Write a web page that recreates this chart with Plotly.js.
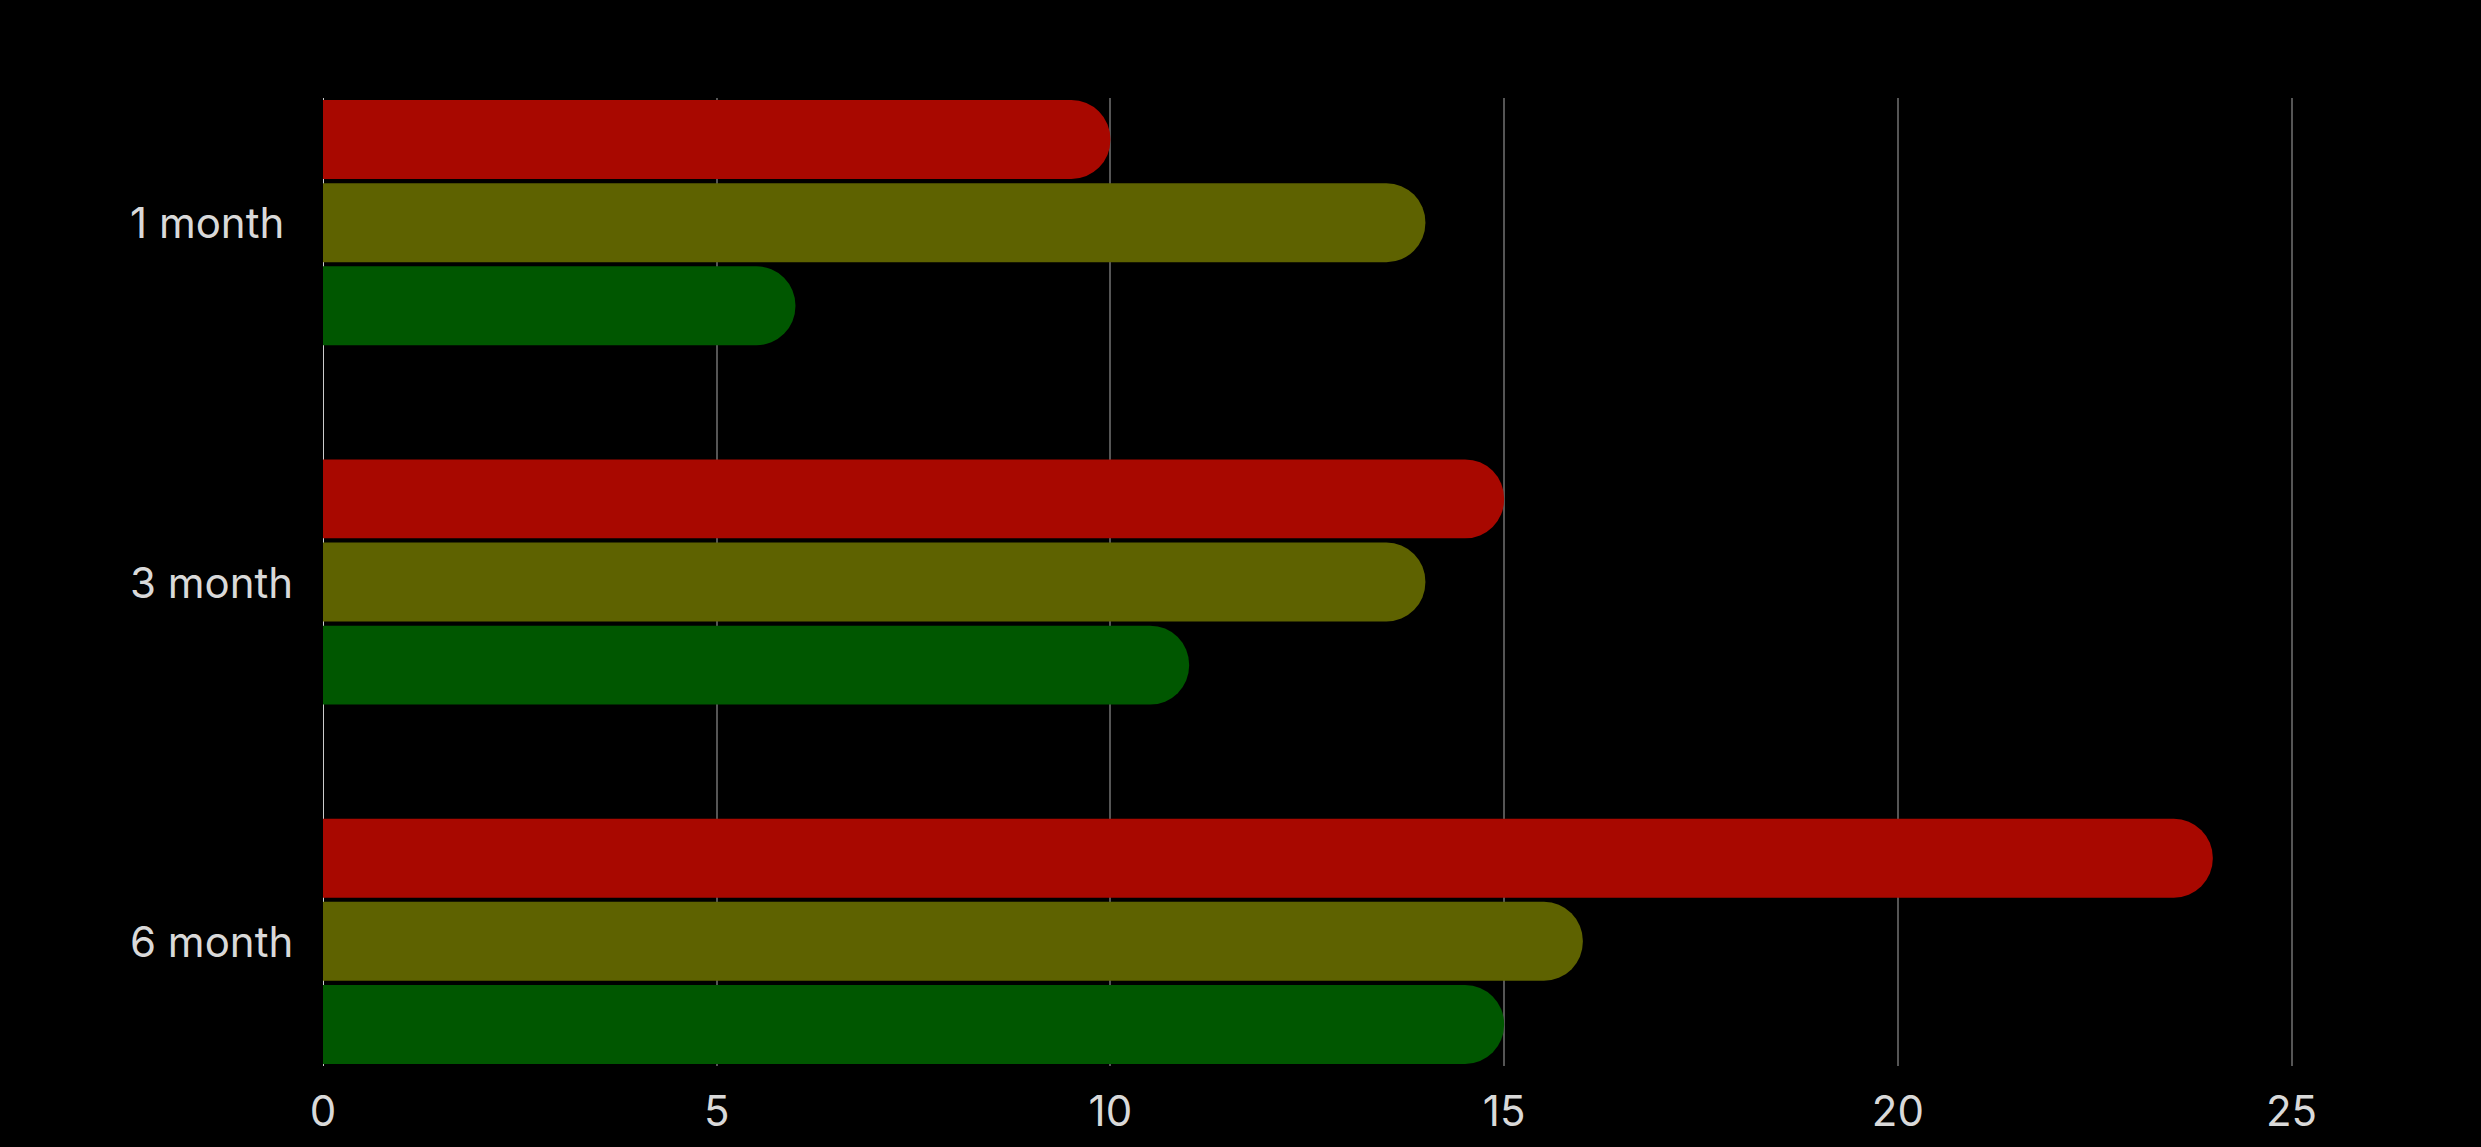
<!DOCTYPE html>
<html>
<head>
<meta charset="utf-8">
<script src="https://cdn.plot.ly/plotly-3.0.1.min.js"></script>
<style>
  html, body { margin: 0; padding: 0; background: #000; }
  #chart { width: 2481px; height: 1147px; }
</style>
</head>
<body>
<div id="chart"></div>
<script>
const categories = ["1 month", "3 month", "6 month"];
const seriesNames = ["Red", "Olive", "Green"];
const redValues = [10, 15, 24];
const oliveValues = [14, 14, 16];
const greenValues = [6, 11, 15];
const xTickValues = [0, 5, 10, 15, 20, 25];

const colors = ["#a80800", "#5e6200", "#005700"];
const allValues = [redValues, oliveValues, greenValues];

const traces = allValues.map((vals, i) => ({
  type: "bar",
  orientation: "h",
  name: seriesNames[i],
  y: categories,
  x: vals,
  marker: { color: colors[i], cornerradius: "50%", line: { width: 0 } },
  hoverinfo: "x+y"
}));

const marginL = 323, marginR = 80;
const plotW = 2481 - marginL - marginR;

// left-aligned category labels
const labelAnnotations = categories.map(c => ({
  text: c,
  xref: "paper",
  yref: "y",
  x: (128 - marginL) / plotW,
  y: c,
  xanchor: "left",
  yanchor: "middle",
  showarrow: false,
  font: { size: 42, color: "#d9d9d9" }
}));

const layout = {
  width: 2481,
  height: 1147,
  paper_bgcolor: "#000000",
  plot_bgcolor: "#000000",
  showlegend: false,
  barmode: "group",
  bargap: 0.306,
  bargroupgap: 0.05,
  margin: { l: marginL, r: marginR, t: 98, b: 81, pad: 0 },
  font: { family: "Inter, 'Open Sans', sans-serif", color: "#d9d9d9", size: 40 },
  xaxis: {
    range: [0, 26.39],
    tickvals: xTickValues,
    ticktext: xTickValues.map(String),
    showgrid: true,
    gridcolor: "#555555",
    gridwidth: 2,
    zeroline: true,
    zerolinecolor: "#cccccc",
    zerolinewidth: 1,
    showline: false,
    ticks: "",
    ticklabelstandoff: 17,
    tickfont: { size: 42, color: "#d9d9d9" }
  },
  yaxis: {
    type: "category",
    range: [2.347, -0.347],
    showgrid: false,
    zeroline: false,
    showline: false,
    ticks: "",
    showticklabels: false
  },
  annotations: labelAnnotations
};

Plotly.newPlot("chart", traces, layout, { displayModeBar: false, staticPlot: true });
</script>
</body>
</html>
